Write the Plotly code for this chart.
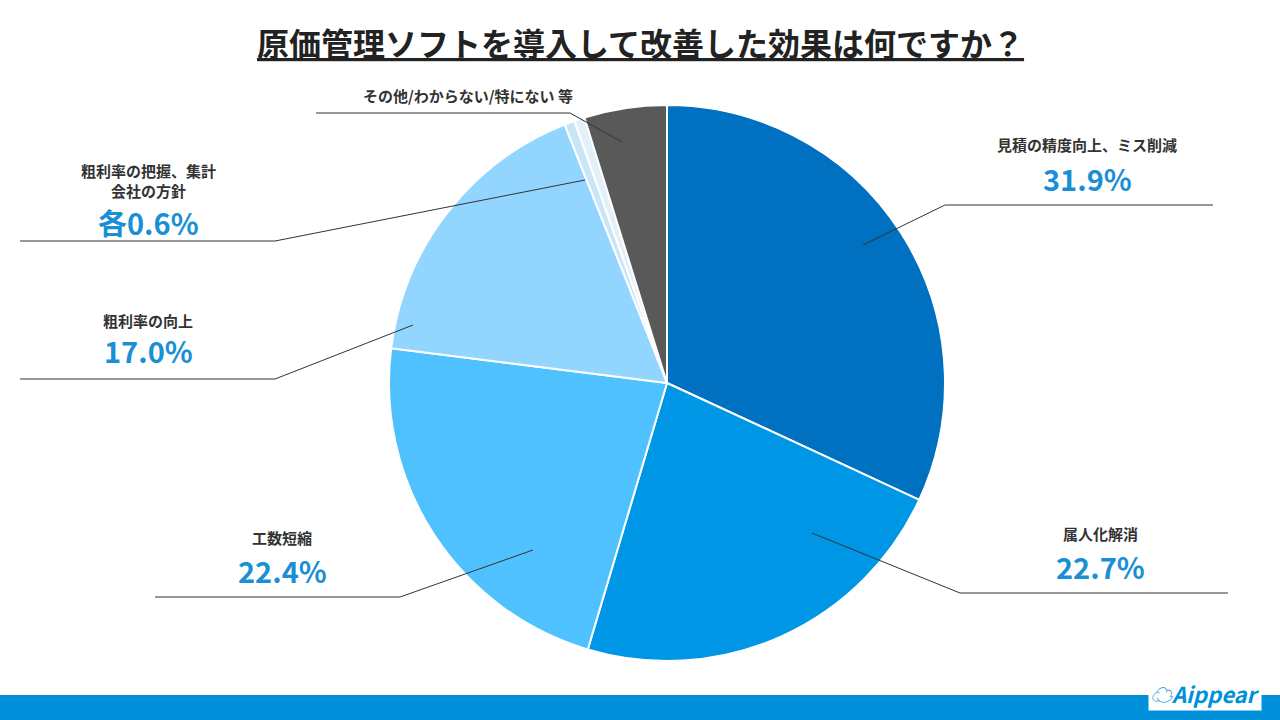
import plotly.graph_objects as go

labels = ["見積の精度向上、ミス削減", "属人化解消", "工数短縮", "粗利率の向上", "粗利率の把握、集計", "会社の方針", "その他/わからない/特に無い 等"]
values = [31.9, 22.7, 22.4, 17.0, 0.6, 0.6, 4.8]
colors = ["#0070C0", "#0096E6", "#4FC1FF", "#92D6FF", "#C9E6F7", "#E2F0FA", "#595959"]

W, H = 1280, 720
def px(x): return x / W
def py(y): return 1 - y / H

fig = go.Figure(go.Pie(
    labels=labels, values=values, sort=False, direction="clockwise", rotation=0,
    marker=dict(colors=colors, line=dict(color="white", width=2)),
    textinfo="none", hoverinfo="label+percent", showlegend=False,
    domain=dict(x=[px(389), px(945)], y=[py(661), py(105)]),
))

shapes = []
lines = [
    [(863, 245), (945, 205), (1213, 205)],
    [(812, 533), (960, 593), (1228, 593)],
    [(533, 550), (400, 597), (155, 597)],
    [(413, 325), (275, 379), (20, 379)],
    [(585, 180), (275, 241), (20, 241)],
    [(622, 142), (570, 113), (316, 113)],
]
for pts in lines:
    path = "M " + " L ".join(f"{px(x)},{py(y)}" for x, y in pts)
    shapes.append(dict(type="path", path=path, xref="paper", yref="paper", line=dict(color="#333333", width=1)))
shapes.append(dict(type="rect", xref="paper", yref="paper", x0=0, x1=1, y0=0, y1=py(695), fillcolor="#0091DA", line_width=0, layer="below"))

F = "Noto Sans CJK JP"
def lab(x, y, txt, size=15, color="#333333"):
    return dict(x=px(x), y=py(y), xref="paper", yref="paper", text=f"<b>{txt}</b>", showarrow=False,
                font=dict(family=F, size=size, color=color), xanchor="center", yanchor="middle")
blue = "#1A8FD6"
ann = [
    lab(1087, 145, "見積の精度向上、ミス削減"), lab(1087, 178, "31.9%", 29, blue),
    lab(1100, 533, "属人化解消"), lab(1100, 566, "22.7%", 29, blue),
    lab(282, 537, "工数短縮"), lab(282, 570, "22.4%", 29, blue),
    lab(148, 320, "粗利率の向上"), lab(148, 350, "17.0%", 29, blue),
    lab(148, 170, "粗利率の把握、集計"), lab(148, 191, "会社の方針"), lab(148, 222, "各0.6%", 29, blue),
    lab(468, 96, "その他/わからない/特にない 等"),
    dict(x=0.5, y=py(42), xref="paper", yref="paper", text="<b><u>原価管理ソフトを導入して改善した効果は何ですか？</u></b>",
         showarrow=False, font=dict(family=F, size=32, color="#222222"), xanchor="center", yanchor="middle"),
    dict(x=px(1262), y=py(693), xref="paper", yref="paper", text="<b><i>☁Aippear</i></b>", showarrow=False,
         font=dict(family=F, size=22, color="#0091DA"), bgcolor="white", xanchor="right", yanchor="middle"),
]

fig.update_layout(width=W, height=H, margin=dict(l=0, r=0, t=0, b=0), paper_bgcolor="white",
                  shapes=shapes, annotations=ann)
fig.write_html("out.html", config={"displayModeBar": False},
               post_script="document.body.style.margin='0';document.body.style.overflow='hidden';")
